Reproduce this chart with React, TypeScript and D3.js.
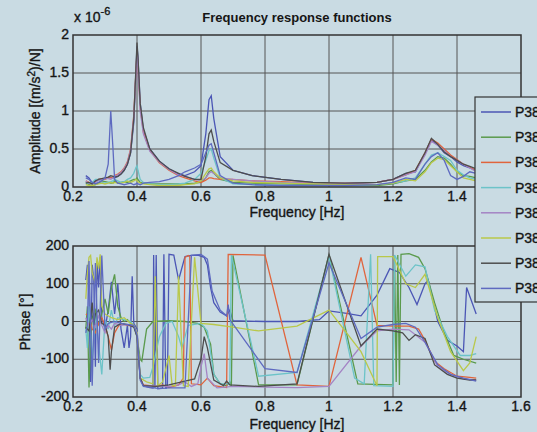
import * as d3 from 'd3';
import React from 'react';

// series names + colours (legend)
const seriesNames = ['P381', 'P382', 'P383', 'P384', 'P385', 'P386', 'P387', 'P388'];
const seriesColors = ['#4b56b5', '#5a9a4c', '#e0643c', '#6cc3c8', '#a484c4', '#b9c84a', '#4d4d4d', '#5e6ac0'];

const xTicks = [0.2, 0.4, 0.6, 0.8, 1, 1.2, 1.4, 1.6];
const ampTicks = [0, 0.5, 1, 1.5, 2];
const phaseTicks = [-200, -100, 0, 100, 200];

// amplitude, x 10^-6 (m/s2)/N, on a shared frequency grid
const ampFreq = [0.24, 0.25, 0.26, 0.27, 0.28, 0.29, 0.30, 0.31, 0.318, 0.325, 0.33, 0.34, 0.35, 0.36, 0.37, 0.38, 0.39, 0.397, 0.40, 0.403, 0.41, 0.42, 0.44, 0.47, 0.50, 0.53, 0.55, 0.58, 0.60, 0.615, 0.625, 0.632, 0.64, 0.66, 0.70, 0.76, 0.85, 0.95, 1.05, 1.15, 1.2, 1.24, 1.27, 1.3, 1.32, 1.34, 1.36, 1.38, 1.4, 1.42, 1.44, 1.46];
const amp1 = [0.15, 0.12, 0.05, 0.08, 0.1, 0.1, 0.11, 0.12, 0.13, 0.12, 0.12, 0.14, 0.17, 0.22, 0.3, 0.45, 0.85, 1.55, 1.85, 1.7, 1.1, 0.75, 0.5, 0.34, 0.24, 0.17, 0.15, 0.2, 0.28, 0.7, 1.15, 1.2, 0.9, 0.4, 0.22, 0.15, 0.1, 0.06, 0.04, 0.06, 0.1, 0.18, 0.2, 0.45, 0.62, 0.55, 0.45, 0.4, 0.33, 0.28, 0.25, 0.22];
const amp2 = [0.06, 0.03, 0.02, 0.03, 0.05, 0.08, 0.07, 0.06, 0.05, 0.05, 0.08, 0.05, 0.06, 0.07, 0.06, 0.08, 0.1, 0.1, 0.12, 0.1, 0.06, 0.05, 0.04, 0.04, 0.04, 0.04, 0.04, 0.05, 0.06, 0.12, 0.2, 0.22, 0.18, 0.1, 0.06, 0.05, 0.04, 0.03, 0.02, 0.02, 0.04, 0.08, 0.1, 0.22, 0.33, 0.4, 0.38, 0.3, 0.2, 0.15, 0.14, 0.12];
const amp3 = [0.08, 0.06, 0.05, 0.07, 0.1, 0.11, 0.1, 0.12, 0.12, 0.13, 0.15, 0.17, 0.2, 0.25, 0.33, 0.5, 0.95, 1.55, 1.78, 1.6, 1.05, 0.72, 0.48, 0.32, 0.22, 0.15, 0.12, 0.08, 0.06, 0.09, 0.12, 0.12, 0.11, 0.1, 0.1, 0.08, 0.07, 0.05, 0.05, 0.06, 0.1, 0.16, 0.22, 0.45, 0.63, 0.58, 0.5, 0.42, 0.36, 0.3, 0.26, 0.22];
const amp4 = [0.04, 0.05, 0.06, 0.1, 0.1, 0.06, 0.05, 0.06, 0.07, 0.08, 0.1, 0.08, 0.06, 0.07, 0.1, 0.12, 0.18, 0.26, 0.28, 0.22, 0.1, 0.06, 0.04, 0.03, 0.03, 0.04, 0.05, 0.1, 0.18, 0.35, 0.48, 0.5, 0.38, 0.12, 0.04, 0.03, 0.02, 0.02, 0.02, 0.03, 0.05, 0.08, 0.12, 0.3, 0.42, 0.45, 0.4, 0.35, 0.22, 0.16, 0.12, 0.1];
const amp5 = [0.08, 0.05, 0.04, 0.06, 0.09, 0.1, 0.11, 0.11, 0.1, 0.12, 0.14, 0.16, 0.19, 0.24, 0.32, 0.48, 0.92, 1.5, 1.75, 1.58, 1.0, 0.7, 0.47, 0.33, 0.23, 0.16, 0.14, 0.1, 0.08, 0.12, 0.18, 0.2, 0.18, 0.12, 0.1, 0.08, 0.06, 0.05, 0.05, 0.06, 0.1, 0.16, 0.2, 0.42, 0.6, 0.55, 0.48, 0.4, 0.35, 0.3, 0.25, 0.2];
const amp6 = [0.03, 0.02, 0.02, 0.03, 0.04, 0.05, 0.04, 0.05, 0.06, 0.05, 0.06, 0.05, 0.05, 0.06, 0.08, 0.06, 0.08, 0.1, 0.08, 0.07, 0.05, 0.04, 0.03, 0.02, 0.02, 0.02, 0.03, 0.04, 0.08, 0.18, 0.24, 0.25, 0.2, 0.12, 0.08, 0.06, 0.05, 0.04, 0.03, 0.03, 0.05, 0.1, 0.08, 0.2, 0.32, 0.38, 0.36, 0.28, 0.2, 0.12, 0.1, 0.08];
const amp7 = [0.05, 0.06, 0.04, 0.08, 0.1, 0.11, 0.12, 0.13, 0.15, 0.14, 0.13, 0.14, 0.17, 0.22, 0.3, 0.45, 0.9, 1.6, 1.9, 1.72, 1.1, 0.78, 0.5, 0.34, 0.24, 0.18, 0.14, 0.1, 0.1, 0.4, 0.7, 0.75, 0.6, 0.32, 0.22, 0.15, 0.1, 0.06, 0.05, 0.06, 0.1, 0.18, 0.22, 0.45, 0.64, 0.56, 0.46, 0.4, 0.35, 0.3, 0.27, 0.24];
const amp8 = [0.12, 0.1, 0.06, 0.04, 0.06, 0.08, 0.12, 0.3, 1.0, 0.5, 0.1, 0.05, 0.04, 0.03, 0.04, 0.05, 0.03, 0.04, 0.05, 0.04, 0.03, 0.05, 0.06, 0.07, 0.1, 0.15, 0.2, 0.25, 0.3, 0.45, 0.55, 0.57, 0.45, 0.15, 0.05, 0.03, 0.02, 0.02, 0.02, 0.03, 0.06, 0.12, 0.1, 0.3, 0.4, 0.45, 0.35, 0.15, 0.1, 0.14, 0.2, 0.18];

// phase [deg], [frequency, phase] per series
const phase1 = [[0.24, 110], [0.245, 150], [0.25, 60], [0.255, -160], [0.26, 150], [0.265, 110], [0.27, -120], [0.275, 160], [0.28, 90], [0.285, 170], [0.29, 10], [0.30, -20], [0.31, 30], [0.32, 105], [0.33, 20], [0.34, 100], [0.35, -20], [0.36, -70], [0.37, -10], [0.375, -70], [0.38, -40], [0.385, 120], [0.39, -5], [0.40, -20], [0.41, -150], [0.42, -170], [0.44, -175], [0.45, -176], [0.452, 176], [0.456, -176], [0.46, 176], [0.465, -178], [0.48, -176], [0.484, 178], [0.49, -178], [0.495, -170], [0.50, 178], [0.515, 176], [0.53, 110], [0.55, 172], [0.57, 175], [0.59, 176], [0.61, 170], [0.62, 150], [0.63, 90], [0.64, 50], [0.66, 25], [0.68, 15], [0.69, 30], [0.70, 2], [0.8, 0], [0.9, 0], [0.97, 5], [1.0, 28], [1.05, 22], [1.1, 15], [1.15, 70], [1.19, 140], [1.22, 130], [1.25, 90], [1.275, 45], [1.3, 100], [1.31, 110], [1.34, 0], [1.37, -50], [1.4, -65], [1.42, -80], [1.43, 90], [1.46, 20]];
const phase2 = [[0.24, -20], [0.245, 40], [0.25, -175], [0.255, -60], [0.26, 10], [0.27, 30], [0.28, -10], [0.29, 20], [0.30, 60], [0.31, 20], [0.32, 90], [0.33, 125], [0.34, 40], [0.35, 10], [0.36, 0], [0.37, 5], [0.38, -5], [0.39, -10], [0.40, -40], [0.41, -100], [0.415, -105], [0.43, -20], [0.45, 0], [0.5, 2], [0.55, 0], [0.59, -5], [0.61, -15], [0.63, -60], [0.64, -140], [0.66, -165], [0.68, -170], [0.69, -160], [0.695, -172], [0.70, 175], [0.78, -168], [0.9, -168], [1.0, 178], [1.09, -165], [1.2, -168], [1.205, 170], [1.21, -160], [1.215, 176], [1.22, -168], [1.225, 178], [1.25, 180], [1.28, 170], [1.3, 140], [1.33, 50], [1.36, -30], [1.39, -90], [1.42, -100], [1.46, -110]];
const phase3 = [[0.24, 20], [0.25, 15], [0.26, -20], [0.27, -30], [0.28, -5], [0.29, 10], [0.30, -10], [0.31, -40], [0.32, -75], [0.33, -30], [0.34, -15], [0.35, -5], [0.37, -10], [0.39, -12], [0.40, -30], [0.41, -150], [0.42, -168], [0.46, -172], [0.48, -168], [0.50, -175], [0.53, -168], [0.545, -150], [0.55, 170], [0.56, 175], [0.565, 172], [0.57, -165], [0.6, -168], [0.62, -150], [0.64, -170], [0.68, -175], [0.685, 178], [0.8, 176], [0.9, -168], [1.0, -172], [1.1, 170], [1.15, -10], [1.2, -12], [1.25, -12], [1.28, -20], [1.3, -50], [1.33, -105], [1.36, -125], [1.4, -145], [1.44, -148], [1.46, -150]];
const phase4 = [[0.24, -20], [0.245, -70], [0.25, 40], [0.26, -100], [0.27, 20], [0.28, -60], [0.29, -140], [0.30, 5], [0.31, -20], [0.32, 30], [0.33, -10], [0.34, 10], [0.36, 5], [0.38, 0], [0.39, -10], [0.40, -30], [0.41, -140], [0.42, -150], [0.44, -148], [0.45, -120], [0.47, -40], [0.49, -5], [0.51, 0], [0.53, -40], [0.54, -70], [0.56, -10], [0.6, -5], [0.62, -25], [0.64, -140], [0.66, -165], [0.69, -165], [0.695, 176], [0.78, -145], [0.9, -135], [1.0, 172], [1.08, -150], [1.11, -165], [1.13, 178], [1.14, -170], [1.2, -172], [1.205, 176], [1.24, 120], [1.27, 150], [1.3, 145], [1.33, 30], [1.37, -40], [1.41, -90], [1.44, -90], [1.46, -85]];
const phase5 = [[0.24, 10], [0.25, -10], [0.26, 5], [0.27, -15], [0.28, 15], [0.29, -10], [0.30, -30], [0.31, -10], [0.32, -20], [0.33, -5], [0.35, -10], [0.37, -8], [0.39, -12], [0.40, -30], [0.41, -150], [0.42, -170], [0.5, -172], [0.53, -168], [0.55, -160], [0.57, -172], [0.59, -165], [0.60, -120], [0.61, -85], [0.62, -150], [0.65, -176], [0.7, -172], [0.8, -174], [0.9, -175], [1.0, -172], [1.1, -65], [1.15, -25], [1.2, -20], [1.25, -22], [1.3, -55], [1.34, -120], [1.38, -140], [1.42, -152], [1.46, -155]];
const phase6 = [[0.24, 60], [0.245, 128], [0.25, 170], [0.255, 175], [0.26, 130], [0.27, 100], [0.275, 170], [0.28, 140], [0.285, 178], [0.29, 40], [0.3, 20], [0.32, 10], [0.34, 5], [0.36, 10], [0.38, -5], [0.39, -10], [0.40, -30], [0.41, -150], [0.43, -160], [0.45, -165], [0.457, 120], [0.465, -170], [0.48, -160], [0.50, -90], [0.51, -170], [0.52, -170], [0.53, 120], [0.545, -170], [0.56, -172], [0.58, 170], [0.6, -5], [0.64, -8], [0.7, -15], [0.78, -25], [0.9, -12], [1.0, 30], [1.1, -80], [1.15, -170], [1.152, 172], [1.2, 172], [1.24, 100], [1.27, 90], [1.3, 125], [1.34, 10], [1.38, -80], [1.42, -130], [1.44, -110], [1.46, -40]];
const phase7 = [[0.24, -15], [0.25, -25], [0.26, 50], [0.265, -10], [0.27, 20], [0.28, 30], [0.29, -5], [0.30, -10], [0.31, -40], [0.316, -128], [0.32, -80], [0.33, -15], [0.35, -5], [0.37, -8], [0.39, -15], [0.40, -40], [0.41, -150], [0.42, -170], [0.46, -172], [0.5, -168], [0.55, -158], [0.58, -152], [0.6, -100], [0.61, -40], [0.62, -70], [0.64, -155], [0.67, -170], [0.68, -158], [0.69, -168], [0.78, -172], [0.9, -165], [1.0, 178], [1.1, -65], [1.15, -20], [1.2, -25], [1.23, -30], [1.25, -50], [1.27, -35], [1.3, -45], [1.33, -115], [1.37, -140], [1.4, -150], [1.44, -155], [1.46, -155]];
const phase8 = [[0.24, -30], [0.245, -10], [0.25, 160], [0.26, -170], [0.27, 155], [0.28, -110], [0.29, 175], [0.30, -20], [0.31, -5], [0.33, 0], [0.35, -5], [0.37, -8], [0.39, -10], [0.40, -35], [0.41, -155], [0.42, -172], [0.47, -178], [0.5, -176], [0.55, -176], [0.57, 175], [0.6, 178], [0.62, 165], [0.635, 80], [0.66, 30], [0.68, 15], [0.685, 45], [0.69, 5], [0.8, -125], [0.9, -135], [1.0, 155], [1.1, -45], [1.15, -15], [1.2, -8], [1.24, -5], [1.27, -15], [1.3, -55], [1.34, -115], [1.38, -140], [1.42, -150], [1.46, -158]];

const ampSeries = [amp1, amp2, amp3, amp4, amp5, amp6, amp7, amp8];
const phaseSeries = [phase1, phase2, phase3, phase4, phase5, phase6, phase7, phase8];

const W = 537;
const H = 432;
const bg = '#c9dbe3';
const font = '"Liberation Sans", Arial, sans-serif';
const txt = '#151515';
// slight stroke so the labels read as heavy as the reference
const heavy = { fill: txt, stroke: txt, strokeWidth: 0.35 };

const x = d3.scaleLinear().domain([0.2, 1.6]).range([73, 521]);
const yAmp = d3.scaleLinear().domain([0, 2]).range([187, 35]);
const yPh = d3.scaleLinear().domain([-200, 200]).range([397, 246]);

function Panel({ y, yTicks, id, xLabels }: { y: d3.ScaleLinear<number, number>; yTicks: number[]; id: string; xLabels: number[] }) {
    const [x0, x1] = x.range();
    const [yb, yt] = y.range();
    return (
        <g>
            <clipPath id={id}>
                <rect x={x0} y={yt} width={x1 - x0} height={yb - yt} />
            </clipPath>
            {xTicks.slice(1, -1).map(t => (
                <line key={'gx' + t} x1={x(t)} x2={x(t)} y1={yt} y2={yb} stroke="#555" strokeWidth={1} />
            ))}
            {yTicks.slice(1, -1).map(t => (
                <line key={'gy' + t} x1={x0} x2={x1} y1={y(t)} y2={y(t)} stroke="#555" strokeWidth={1} />
            ))}
            {xLabels.map(t => (
                <text key={'tx' + t} x={x(t)} y={yb + 14} textAnchor="middle" fontSize={14} {...heavy}>{String(t)}</text>
            ))}
            {yTicks.map(t => (
                <text key={'ty' + t} x={x0 - 4} y={y(t) + 4} textAnchor="end" fontSize={14} {...heavy}>{String(t)}</text>
            ))}
        </g>
    );
}

export default function App() {
    const ampLine = d3.line<number>().x((d, i) => x(ampFreq[i])).y(d => yAmp(d));
    const phLine = d3.line<number[]>().x(d => x(d[0])).y(d => yPh(d[1]));
    const [x0, x1] = x.range();

    return (
        <div style={{ position: 'fixed', left: 0, top: 0 }}>
            <svg width={W} height={H} style={{ display: 'block', background: bg, fontFamily: font }}>
                <text x={297} y={22} textAnchor="middle" fontSize={13} fontWeight="bold" fill={txt}>Frequency response functions</text>
                <text x={74} y={22} fontSize={14} {...heavy}>x 10<tspan dy={-7} fontSize={11}>-6</tspan></text>

                <Panel y={yAmp} yTicks={ampTicks} id="clipA" xLabels={xTicks.slice(0, -1)} />
                <g clipPath="url(#clipA)" fill="none">
                    {ampSeries.map((s, i) => (
                        <path key={i} d={ampLine(s) || ''} stroke={seriesColors[i]} strokeWidth={1.3} />
                    ))}
                </g>
                <rect x={x0} y={yAmp(2)} width={x1 - x0} height={yAmp(0) - yAmp(2)} fill="none" stroke="#333" strokeWidth={1.5} />
                <text x={297} y={217} textAnchor="middle" fontSize={14} {...heavy}>Frequency [Hz]</text>
                <text transform="translate(40,111) rotate(-90)" textAnchor="middle" fontSize={14} {...heavy}>
                    Amplitude [(m/s<tspan dy={-5} fontSize={10}>2</tspan><tspan dy={5}>)/N]</tspan>
                </text>

                <Panel y={yPh} yTicks={phaseTicks} id="clipP" xLabels={xTicks} />
                <g clipPath="url(#clipP)" fill="none">
                    {phaseSeries.map((s, i) => (
                        <path key={i} d={phLine(s) || ''} stroke={seriesColors[i]} strokeWidth={1.3} />
                    ))}
                </g>
                <rect x={x0} y={yPh(200)} width={x1 - x0} height={yPh(-200) - yPh(200)} fill="none" stroke="#333" strokeWidth={1.5} />
                <text x={297} y={429} textAnchor="middle" fontSize={14} {...heavy}>Frequency [Hz]</text>
                <text transform="translate(30,322) rotate(-90)" textAnchor="middle" fontSize={14} {...heavy}>Phase [°]</text>

                <g>
                    <rect x={475} y={97} width={80} height={205} fill={bg} stroke="#333" strokeWidth={1.2} />
                    {seriesNames.map((n, i) => (
                        <g key={n}>
                            <line x1={481} x2={511} y1={112 + i * 25.2} y2={112 + i * 25.2} stroke={seriesColors[i]} strokeWidth={1.5} />
                            <text x={515} y={112 + i * 25.2 + 5} fontSize={14} {...heavy}>{n}</text>
                        </g>
                    ))}
                </g>
            </svg>
        </div>
    );
}
